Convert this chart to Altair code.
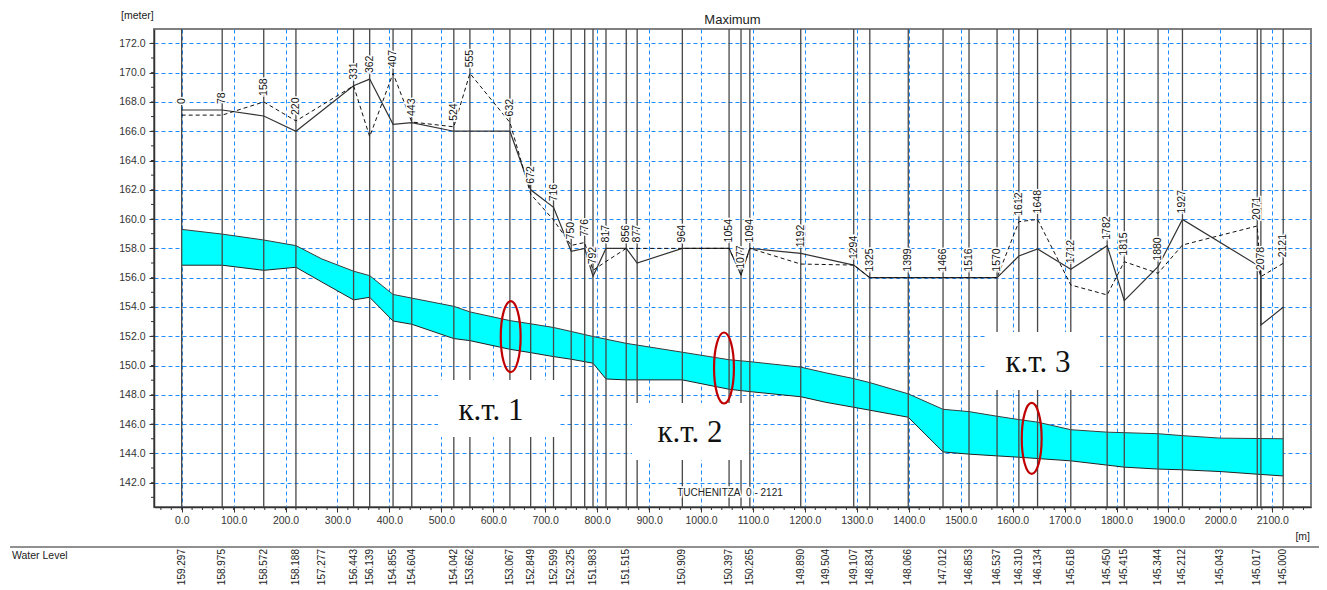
import altair as alt
import pandas as pd

# ---------------- data ----------------
# cross-section chainages [m]
xs = [0, 78, 158, 220, 331, 362, 407, 443, 524, 555, 632, 672, 716, 750, 776,
      792, 817, 856, 877, 964, 1054, 1077, 1094, 1192, 1294, 1325, 1399, 1466,
      1516, 1570, 1612, 1648, 1712, 1782, 1815, 1880, 1927, 2071, 2078, 2121]
# right bank (dashed line) per cross-section
right_bank = [167.1, 167.1, 168.0, 166.7, 169.1, 165.63, 169.95, 166.63, 166.3, 169.95,
              166.6, 161.7, 159.94, 158.2, 158.4, 156.5, 157.1, 158.0, 158.0, 158.0,
              158.0, 156.2, 158.0, 156.93, 156.86, 156.0, 156.0, 156.0, 156.0, 156.0,
              159.82, 159.98, 155.5, 154.82, 157.09, 156.3, 158.23, 159.53, 156.07, 156.98]
# left bank (solid line); 2078 has a vertical drop
left_x = [0, 78, 158, 220, 331, 362, 407, 443, 524, 555, 632, 672, 716, 750, 776,
          792, 817, 856, 877, 964, 1054, 1077, 1094, 1192, 1294, 1325, 1399, 1466,
          1516, 1570, 1612, 1648, 1712, 1782, 1815, 1880, 1927, 2071, 2078, 2078, 2121]
left_bank = [167.45, 167.45, 167.04, 166.0, 169.1, 169.56, 166.47, 166.58, 166.0, 166.0,
             166.0, 162.0, 160.8, 157.8, 158.0, 156.1, 158.0, 158.0, 157.0, 158.0,
             158.0, 156.2, 158.0, 157.66, 156.86, 156.0, 156.0, 156.0, 156.0, 156.0,
             157.48, 157.96, 156.57, 158.18, 154.43, 156.75, 159.98, 156.86, 156.1, 152.77, 153.98]

# water level points (labels at bottom)
wl_x = [0, 78, 158, 220, 270, 331, 362, 407, 443, 524, 555, 632, 672, 716, 750, 792,
        856, 964, 1054, 1094, 1192, 1240, 1294, 1325, 1399, 1466, 1516, 1570, 1612,
        1648, 1712, 1782, 1815, 1880, 1927, 2000, 2071, 2121]
water_level = [159.297, 158.975, 158.572, 158.188, 157.277, 156.443, 156.139, 154.855,
               154.604, 154.042, 153.662, 153.067, 152.849, 152.599, 152.325, 151.983,
               151.515, 150.909, 150.397, 150.265, 149.890, 149.504, 149.107, 148.834,
               148.066, 147.012, 146.853, 146.537, 146.310, 146.134, 145.618, 145.450,
               145.415, 145.344, 145.212, 145.043, 145.017, 145.000]
# bed level at the same points
bed_level = [156.85, 156.85, 156.5, 156.71, 155.7, 154.48, 154.66, 153.04, 152.82, 151.84,
             151.70, 151.11, 150.88, 150.61, 150.43, 150.16, 149.02, 149.02, 148.38, 148.22,
             147.87, 147.49, 147.15, 146.95, 146.47, 144.1, 143.95, 143.83, 143.74, 143.65,
             143.49, 143.2, 143.06, 142.93, 142.88, 142.76, 142.58, 142.46]
# extra band vertex (bed drop at 817)
extra_x = [817]
extra_top = [151.80]
extra_bed = [149.08]

# annotations
kt_text = ["к.т. 1", "к.т. 2", "к.т. 3"]
kt_x = [595.6, 978.8, 1648.9]
kt_y = [146.28, 144.76, 149.58]
box_x1 = [493.5, 867.0, 1546.8]
box_x2 = [724.6, 1088.5, 1768.3]
box_y1 = [145.12, 143.55, 148.33]
box_y2 = [149.01, 147.44, 152.29]
ell_x = [633.5, 1044.2, 1636.7]
ell_y = [151.97, 149.83, 145.02]

x_major = list(range(0, 2101, 100))
x_minor = list(range(-40, 2161, 20))
y_major = list(range(142, 173, 2))
y_minor = list(range(141, 173, 1))

# ---------------- chart ----------------
FONT = "Liberation Sans"
W, H = 1157, 478
xsc = alt.Scale(domain=[-53.3, 2174.5], nice=False, zero=False)
ysc = alt.Scale(domain=[140.34, 172.98], nice=False, zero=False)

x_axis = alt.Axis(values=x_major, format='.1f', title=None, grid=True,
                  gridColor='#1e8cff', gridDash=[4, 3], gridWidth=1,
                  tickSize=5, tickColor='#333', domainColor='#333', domainWidth=1.5,
                  labelFont=FONT, labelFontSize=10.5, labelColor='#333',
                  labelPadding=3, labelFlush=False)
y_axis = alt.Axis(values=y_major, format='.1f', title=None, grid=True,
                  gridColor='#1e8cff', gridDash=[4, 3], gridWidth=1,
                  tickSize=5, tickColor='#333', domainColor='#333', domainWidth=1.5,
                  labelFont=FONT, labelFontSize=10.5, labelColor='#333',
                  labelPadding=4, labelFlush=False)

band = pd.concat([
    pd.DataFrame({'x': wl_x, 'top': water_level, 'bed': bed_level}),
    pd.DataFrame({'x': extra_x, 'top': extra_top, 'bed': extra_bed}),
]).sort_values('x').reset_index(drop=True)


def X(f):
    return alt.X(f, scale=xsc, axis=x_axis)


def Y(f):
    return alt.Y(f, scale=ysc, axis=y_axis)


area = alt.Chart(band).mark_area(color='#00ffff', opacity=1).encode(
    x=X('x:Q'), y=Y('top:Q'), y2='bed:Q')
top_line = alt.Chart(band).mark_line(color='#3a3a3a', strokeWidth=1).encode(x=X('x:Q'), y=Y('top:Q'))
bed_line = alt.Chart(band).mark_line(color='#222', strokeWidth=1).encode(x=X('x:Q'), y=Y('bed:Q'))

xsec = pd.DataFrame({'x': xs, 'rb': right_bank})
rules = alt.Chart(xsec).mark_rule(color='#474747', strokeWidth=1.3).encode(x=X('x:Q'))

minor_x = alt.Chart(pd.DataFrame({'v': x_minor})).mark_rule(color='#333', strokeWidth=1).encode(
    x=X('v:Q'), y=alt.value(H), y2=alt.value(H + 3))
minor_y = alt.Chart(pd.DataFrame({'v': y_minor})).mark_rule(color='#333', strokeWidth=1).encode(
    y=Y('v:Q'), x=alt.value(-3), x2=alt.value(0))

left_df = pd.DataFrame({'x': left_x, 'y': left_bank, 'i': range(len(left_x))})
right_df = pd.DataFrame({'x': xs, 'y': right_bank, 'i': range(len(xs))})
left_line = alt.Chart(left_df).mark_line(color='#333', strokeWidth=1.2).encode(
    x=X('x:Q'), y=Y('y:Q'), order='i:Q')
right_line = alt.Chart(right_df).mark_line(color='#111', strokeWidth=1, strokeDash=[4, 3]).encode(
    x=X('x:Q'), y=Y('y:Q'), order='i:Q')

left_max = left_df.groupby('x')['y'].max()
lab = pd.DataFrame({'x': xs,
                    'y': [max(r, left_max[x]) for x, r in zip(xs, right_bank)],
                    't': [str(v) for v in xs]})
lab_kw = dict(angle=270, align='left', baseline='middle', dx=6, fontSize=10.5, font=FONT)
lab_halo = alt.Chart(lab).mark_text(color='white', stroke='white', strokeWidth=3, **lab_kw).encode(
    x=X('x:Q'), y=Y('y:Q'), text='t:N')
lab_text = alt.Chart(lab).mark_text(color='#111', **lab_kw).encode(
    x=X('x:Q'), y=Y('y:Q'), text='t:N')

wl_df = pd.DataFrame({'x': wl_x, 'v': water_level})
wl_text = alt.Chart(wl_df).mark_text(angle=270, align='right', baseline='middle', fontSize=10,
                                     font=FONT, color='#222').encode(
    x=X('x:Q'), y=alt.value(520), text=alt.Text('v:Q', format='.3f'))

boxes = alt.Chart(pd.DataFrame({'x1': box_x1, 'x2': box_x2, 'y1': box_y1, 'y2': box_y2})).mark_rect(
    color='white', opacity=1).encode(x=X('x1:Q'), x2='x2:Q', y=Y('y1:Q'), y2='y2:Q')
kt = alt.Chart(pd.DataFrame({'x': kt_x, 'y': kt_y, 't': kt_text})).mark_text(
    font='Liberation Serif', fontSize=31, color='#111', align='center', baseline='alphabetic').encode(
    x=X('x:Q'), y=Y('y:Q'), text='t:N')

ELL = "M0,-1 A0.28,1 0 1,1 0,1 A0.28,1 0 1,1 0,-1 Z"
ells = alt.Chart(pd.DataFrame({'x': ell_x, 'y': ell_y})).mark_point(
    shape=ELL, size=5041, filled=False, color='#c00000', strokeWidth=2.2, opacity=1).encode(
    x=X('x:Q'), y=Y('y:Q'))


def label(txt, x, y, size=10.5, align='left', halo=False):
    d = pd.DataFrame({'t': [txt]})
    kw = dict(fontSize=size, font=FONT, align=align, baseline='middle')
    out = []
    if halo:
        out.append(alt.Chart(d).mark_text(color='white', stroke='white', strokeWidth=3, **kw).encode(
            x=alt.value(x), y=alt.value(y), text='t:N'))
    out.append(alt.Chart(d).mark_text(color='#222', **kw).encode(
        x=alt.value(x), y=alt.value(y), text='t:N'))
    return out


bottom_rule = alt.Chart(pd.DataFrame({'a': [0]})).mark_rule(color='#222', strokeWidth=1.2).encode(
    x=alt.value(-144), x2=alt.value(1165), y=alt.value(518))

layers = [area, top_line, bed_line, rules, minor_x, minor_y, left_line, right_line,
          lab_halo, lab_text, wl_text, boxes, kt, ells, bottom_rule]
layers += label('[meter]', -33, -13)
layers += label('Maximum', W / 2, -9, size=13, align='center')
layers += label('TUCHENITZA\u00a0 0 - 2121', 576, 464, size=10, align='center', halo=True)
layers += label('[m]', 1156, 507.7, align='right')
layers += label('Water Level', -142, 527)

chart = alt.layer(*layers).properties(
    width=W, height=H,
    padding={'left': 146, 'top': 21, 'right': 8, 'bottom': 78},
    autosize=alt.AutoSizeParams(type='none'),
).configure_view(stroke='#808080', strokeWidth=2)

chart.save("out.html", embed_options={"renderer": "svg", "actions": False})
